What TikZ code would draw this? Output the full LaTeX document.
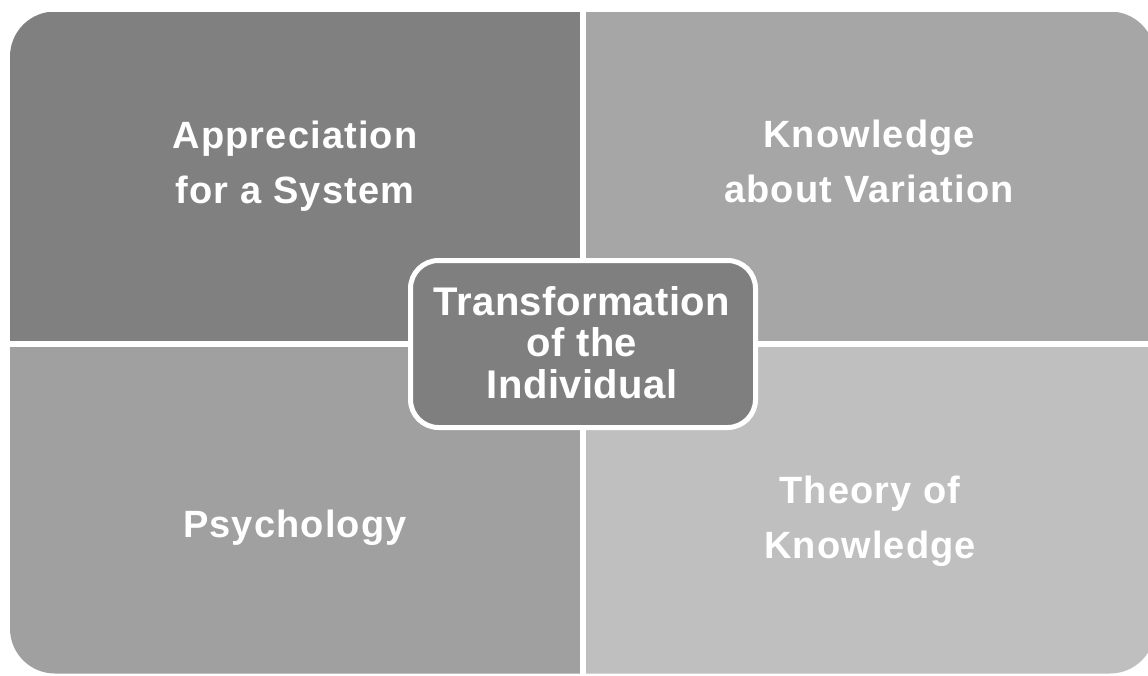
\documentclass[tikz,border=0pt]{standalone}
\usepackage{fontspec}
\setmainfont{Liberation Sans}
\definecolor{tlc}{HTML}{808080}
\definecolor{trc}{HTML}{A6A6A6}
\definecolor{blc}{HTML}{A0A0A0}
\definecolor{brc}{HTML}{BFBFBF}
\definecolor{cenc}{HTML}{7F7F7F}
\begin{document}
\begin{tikzpicture}[x=1pt,y=-1pt,
  quadtext/.style={text=white, inner sep=0pt, anchor=base, align=center,
    font=\fontsize{38}{55}\selectfont\bfseries\addfontfeature{LetterSpace=3}},
  centext/.style={text=white, inner sep=0pt, anchor=base, align=center,
    font=\fontsize{40}{41.5}\selectfont\bfseries\addfontfeature{LetterSpace=1}},
  cenbox/.style={draw=white, line width=5pt, fill=cenc, rounded corners=28pt,
    minimum width=345pt, minimum height=167pt, inner sep=0pt}]
\useasboundingbox (0,0) rectangle (1148,675);
\begin{scope}
  \clip[rounded corners=45pt] (10,11.5) rectangle (1155,673.5);
  \fill[tlc] (10,11.5) rectangle (580,340.5);
  \fill[trc] (586,11.5) rectangle (1155,340.5);
  \fill[blc] (10,346.5) rectangle (580,673.5);
  \fill[brc] (586,346.5) rectangle (1155,673.5);
\end{scope}
\node[quadtext] (tl) at (295,203) {Appreciation\\for a System};
\node[quadtext] (tr) at (869,202) {Knowledge\\about Variation};
\node[quadtext] (bl) at (295,537) {Psychology};
\node[quadtext] (br) at (870,558) {Theory of\\Knowledge};
\node[cenbox] (cbox) at (583,344) {};
\node[centext] (ctext) at (582,398) {Transformation\\of the\\Individual};
\end{tikzpicture}
\end{document}
